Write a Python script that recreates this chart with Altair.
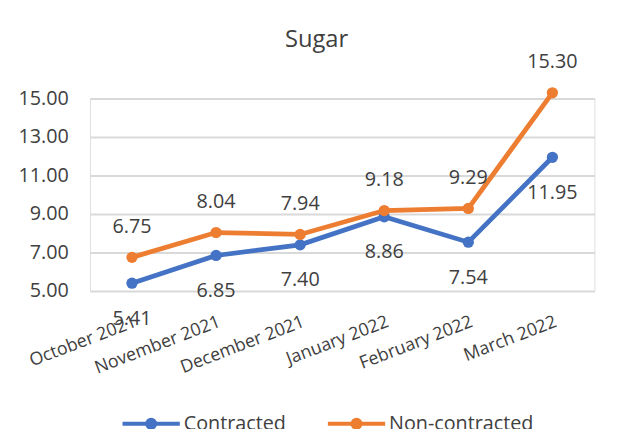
import altair as alt
import pandas as pd

months = ["October 2021", "November 2021", "December 2021",
          "January 2022", "February 2022", "March 2022"]
contracted = [5.41, 6.85, 7.40, 8.86, 7.54, 11.95]
non_contracted = [6.75, 8.04, 7.94, 9.18, 9.29, 15.30]
series = ["Contracted", "Non-contracted"]
colors = ["#4472C4", "#ED7D31"]
y_ticks = [5, 7, 9, 11, 13, 15]

rows = []
for m, c, n in zip(months, contracted, non_contracted):
    rows.append({"month": m, "series": series[0], "value": c})
    rows.append({"month": m, "series": series[1], "value": n})
df = pd.DataFrame(rows)

FONT = "Open Sans"
TXT = "#404040"

legend_path = ("M-1,0L1,0"
               "M-0.14,0A0.14,0.14,0,1,1,0.14,0A0.14,0.14,0,1,1,-0.14,0Z"
               "M-0.05,0A0.05,0.05,0,1,1,0.05,0A0.05,0.05,0,1,1,-0.05,0Z")

x_enc = alt.X("month:N", sort=months,
              scale=alt.Scale(type="point", padding=0.5),
              axis=alt.Axis(title=None, labelAngle=-21, labelAlign="right",
                            labelBaseline="top", labelPadding=22,
                            labelFontSize=18, labelFont=FONT, labelColor=TXT,
                            domain=False, ticks=False, grid=False))
y_enc = alt.Y("value:Q", scale=alt.Scale(domain=[5, 15], nice=False, zero=False),
              axis=alt.Axis(values=y_ticks, format=".2f", title=None,
                            labelFontSize=20, labelFont=FONT, labelColor=TXT,
                            labelPadding=22, domain=False, ticks=False,
                            gridColor="#d9d9d9", gridWidth=2))
color_enc = alt.Color("series:N",
                      scale=alt.Scale(domain=series, range=colors),
                      legend=alt.Legend(title=None, orient="none",
                                        legendX=31, legendY=298,
                                        direction="horizontal",
                                        symbolType=legend_path,
                                        symbolSize=3364,
                                        symbolStrokeWidth=4,
                                        symbolOpacity=1,
                                        labelFontSize=20, labelFont=FONT,
                                        labelColor=TXT, labelOffset=2,
                                        columnPadding=34))

base = alt.Chart(df).encode(x=x_enc, y=y_enc, color=color_enc)

lines = base.mark_line(strokeWidth=4.8, clip=False)
points = base.mark_circle(size=130, opacity=1, clip=False)
txt_non = base.transform_filter(alt.datum.series == series[1]).mark_text(
    dy=-31, fontSize=20, font=FONT, color=TXT, clip=False
).encode(text=alt.Text("value:Q", format=".2f"), color=alt.value(TXT))
txt_con = base.transform_filter(alt.datum.series == series[0]).mark_text(
    dy=36, fontSize=20, font=FONT, color=TXT, clip=False
).encode(text=alt.Text("value:Q", format=".2f"), color=alt.value(TXT))

chart = alt.layer(lines, points, txt_non, txt_con).properties(
    width=511, height=195,
    autosize=alt.AutoSizeParams(type="none"),
    padding={"left": 83, "top": 89, "right": 34, "bottom": 137},
    title=alt.Title("Sugar", fontSize=24, font=FONT, fontWeight="normal",
                    color=TXT, anchor="middle", frame="group", dx=-26,
                    offset=0),
).configure_view(stroke=None).configure(background="white")

chart.save("out.html", embed_options={"renderer": "svg", "actions": False})
